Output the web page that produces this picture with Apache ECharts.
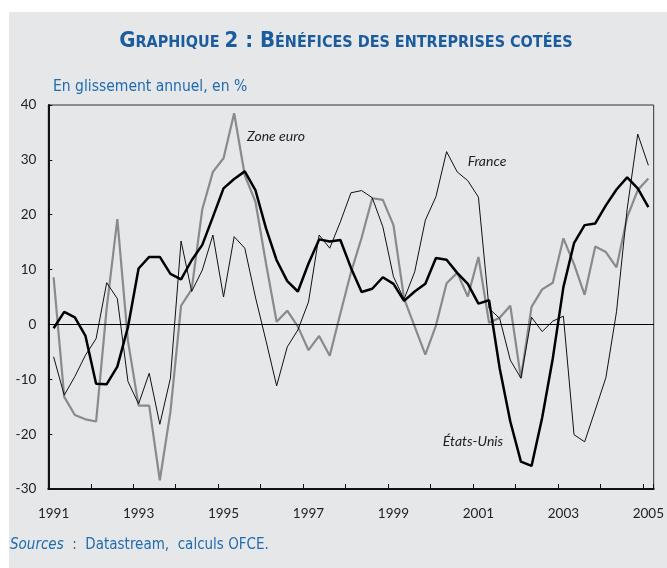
<!DOCTYPE html>
<html>
<head>
<meta charset="utf-8">
<script src="https://cdn.jsdelivr.net/npm/echarts@6/dist/echarts.min.js"></script>
<style>html,body{margin:0;padding:0;background:#fff}#c{width:667px;height:568px}</style>
</head>
<body>
<div id="c"></div>
<script>
const years = [1991,1992,1993,1994,1995,1996,1997,1998,1999,2000,2001,2002,2003,2004,2005];
const quarters = ['T1','T2','T3','T4'];
const tickLabels = ['1991','1993','1995','1997','1999','2001','2003','2005'];
const categories = [];
years.forEach(y => quarters.forEach(q => { if (y < 2005 || q === 'T1') categories.push(y + q); }));

const etatsUnis = [-0.7,2.3,1.3,-2.1,-10.8,-10.9,-7.7,-0.5,10.2,12.3,12.3,9.2,8.2,11.7,14.5,19.6,24.8,26.5,27.9,24.5,17.5,11.7,7.9,6.0,11.1,15.5,15.1,15.4,10.3,5.9,6.5,8.6,7.4,4.3,6.0,7.4,12.1,11.8,9.4,7.4,3.8,4.4,-8.0,-17.7,-25.0,-25.8,-17.0,-6.2,6.8,14.8,18.1,18.4,21.7,24.6,26.8,24.8,21.4];
const france = [-5.9,-12.9,-9.5,-5.6,-2.6,7.6,4.7,-10.4,-14.5,-8.9,-18.2,-9.8,15.2,6.0,9.9,16.3,5.0,16.0,13.9,5.0,-3.0,-11.2,-4.1,-1.0,4.1,16.3,13.9,18.7,24.0,24.4,23.1,17.8,8.7,4.6,9.6,19.0,23.3,31.5,27.8,26.2,23.2,2.9,1.1,-6.5,-9.8,1.3,-1.3,0.6,1.5,-20.1,-21.4,-15.6,-9.7,2.3,21.0,34.7,29.0];
const zoneEuro = [8.6,-13.2,-16.5,-17.3,-17.7,3.0,19.2,-3.0,-14.8,-14.8,-28.4,-15.9,3.4,6.4,21.0,27.8,30.3,38.5,27.2,22.4,11.1,0.5,2.5,-0.4,-4.7,-2.1,-5.7,2.0,9.5,15.8,23.0,22.7,18.1,4.7,-0.4,-5.5,-0.2,7.5,9.4,5.1,12.3,0.3,1.2,3.4,-9.8,3.2,6.4,7.6,15.7,11.0,5.4,14.2,13.2,10.4,19.5,24.5,26.6];

const blue = '#1b5c9e';
const narrow = '"Liberation Sans Narrow","DejaVu Sans Condensed",sans-serif';
const axisFont = 'Lato, "Noto Sans", sans-serif';

const chart = echarts.init(document.getElementById('c'), null, {renderer:'canvas'});
chart.setOption({
  backgroundColor: '#ffffff',
  animation: false,
  grid: {left: 48.3, right: 10.3, top: 105, bottom: 79, show: true, borderColor: '#333', borderWidth: 1, backgroundColor: 'transparent'},
  xAxis: {
    type: 'category', data: categories, boundaryGap: true,
    axisLine: {show: true, onZero: false, lineStyle: {color: '#111', width: 2}},
    axisTick: {show: true, inside: true, length: 5, interval: 3, lineStyle: {color: '#111', width: 1}},
    axisLabel: {interval: 7, margin: 18, color: '#222', fontSize: 13.5, fontFamily: axisFont,
      formatter: v => { const y = v.slice(0,4); return tickLabels.includes(y) ? y : ''; }},
    splitLine: {show: false}
  },
  yAxis: {
    type: 'value', min: -30, max: 40, interval: 10,
    axisLine: {show: true, lineStyle: {color: '#111', width: 2}},
    axisTick: {show: true, inside: true, length: 4, lineStyle: {color: '#111'}},
    axisLabel: {margin: 12, color: '#222', fontSize: 13.5, fontFamily: axisFont},
    splitLine: {show: false}
  },
  series: [
    {name: 'Zone euro', type: 'line', data: zoneEuro, symbol: 'none', lineStyle: {color: '#8a8a8a', width: 2.2}, z: 3,
     markLine: {silent: true, symbol: 'none', label: {show: false}, lineStyle: {color: '#000', width: 1, type: 'solid'}, data: [{yAxis: 0}]}},
    {name: 'France', type: 'line', data: france, symbol: 'none', lineStyle: {color: '#111', width: 1}, z: 4},
    {name: 'États-Unis', type: 'line', data: etatsUnis, symbol: 'none', lineStyle: {color: '#000', width: 2.5}, z: 5}
  ],
  graphic: [
    {type: 'rect', z: -10, silent: true, shape: {x: 9, y: 12, width: 658, height: 556}, style: {fill: '#e6e7e9'}},
    {type: 'text', x: 346, y: 41, silent: true, style: {
      text: '{a|G}{b|RAPHIQUE }{a|2 : B}{b|ÉNÉFICES DES ENTREPRISES COTÉES}',
      align: 'center', verticalAlign: 'middle',
      rich: {
        a: {fontSize: 22, fontWeight: 'bold', fontFamily: narrow, fill: blue, color: blue, verticalAlign: 'bottom'},
        b: {fontSize: 16, fontWeight: 'bold', fontFamily: narrow, fill: blue, color: blue, verticalAlign: 'bottom', padding: [0,0,1,0]}
      }}},
    {type: 'text', x: 53, y: 87, silent: true, style: {text: 'En glissement annuel, en %', font: '15.5px ' + narrow, fill: '#1f6bb0', align: 'left', verticalAlign: 'middle'}},
    {type: 'text', x: 10, y: 545, silent: true, style: {
      text: '{i|Sources}{r|  :  Datastream,  calculs OFCE.}', align: 'left', verticalAlign: 'middle',
      rich: {
        i: {fontSize: 15, fontStyle: 'italic', fontFamily: narrow, fill: '#1f6bb0', color: '#1f6bb0'},
        r: {fontSize: 15, fontFamily: narrow, fill: '#1f6bb0', color: '#1f6bb0'}
      }}},
    {type: 'text', x: 276, y: 136, silent: true, style: {text: 'Zone euro', font: 'italic 14px Lato, sans-serif', fill: '#222', align: 'center', verticalAlign: 'middle'}},
    {type: 'text', x: 487, y: 161, silent: true, style: {text: 'France', font: 'italic 14px Lato, sans-serif', fill: '#222', align: 'center', verticalAlign: 'middle'}},
    {type: 'text', x: 473, y: 441, silent: true, style: {text: 'États-Unis', font: 'italic 14px Lato, sans-serif', fill: '#222', align: 'center', verticalAlign: 'middle'}}
  ]
});
</script>
</body>
</html>
